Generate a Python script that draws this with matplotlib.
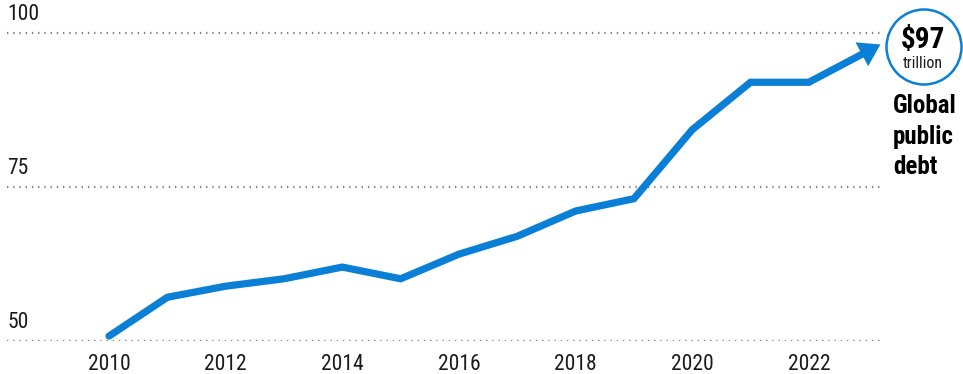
import matplotlib
matplotlib.use("Agg")
import numpy as np
import matplotlib.pyplot as plt
import matplotlib.patches as patches
from matplotlib import font_manager

# --- данные ---
years = [2010, 2011, 2012, 2013, 2014, 2015, 2016, 2017, 2018, 2019, 2020, 2021, 2022, 2023]
debt = [50.8, 57.1, 58.9, 60.1, 62.0, 60.1, 64.1, 67.0, 71.1, 73.1, 84.3, 92.0, 92.0, 97.0]
y_ticks = [50, 75, 100]
x_ticks = [2010, 2012, 2014, 2016, 2018, 2020, 2022]
badge_value = "$97"
badge_unit = "trillion"
series_label = "Global\npublic\ndebt"

BLUE = "#0a7fd6"
TXT = "#1a1a1a"

# --- шрифт ---
have = {f.name for f in font_manager.fontManager.ttflist}
FONT = "DejaVu Sans"
for name in ["Liberation Sans Narrow", "Roboto Condensed", "Roboto", "Liberation Sans"]:
    if name in have:
        FONT = name
        break
plt.rcParams["font.family"] = [FONT, "DejaVu Sans"]

# --- графика ---
W, H = 963, 374
fig = plt.figure(figsize=(W / 100, H / 100), dpi=100)
ax = fig.add_axes([7 / W, (H - 341) / H, (880 - 7) / W, (341 - 20) / H])
ax.set_xlim(2008.25, 2023.22)
ax.set_ylim(50, 50 + (341 - 20) / 6.16)
ax.axis("off")

for yv in y_ticks:
    ax.axhline(yv, color="#808080", lw=1.6, ls=(0, (0.6, 2.2)), zorder=1)
    ax.annotate(str(yv), (0, yv), xycoords=("axes fraction", "data"),
                xytext=(0, 6), textcoords="offset points",
                ha="left", va="bottom", fontsize=15.5, color=TXT)

for xv in x_ticks:
    ax.annotate(str(xv), (xv, 50), xytext=(0, -9), textcoords="offset points",
                ha="center", va="top", fontsize=15.5, color=TXT, annotation_clip=False)

# линия до основания стрелки, наконечник рисуем треугольником в пикселях
fig.canvas.draw()
pts = ax.transData.transform(np.column_stack([years, debt]))
d = pts[-1] - pts[-2]
d = d / np.hypot(*d)
tip = pts[-1] + d * 15
base = tip - d * 21
perp = np.array([-d[1], d[0]])
line_pts = np.vstack([pts[:-1], base + d * 2])
ax.plot(*ax.transData.inverted().transform(line_pts).T, color=BLUE, lw=5.2,
        solid_capstyle="round", solid_joinstyle="miter", clip_on=False, zorder=3)
head = patches.Polygon([tip, base + perp * 13.5, base - perp * 13.5], closed=True,
                       transform=None, facecolor=BLUE, edgecolor="none", zorder=4)
fig.add_artist(head)

# --- значок ---
circ = patches.Circle((924 / 100, (H - 47) / 100), 0.375, transform=fig.dpi_scale_trans,
                      facecolor="white", edgecolor=BLUE, lw=1.8)
fig.add_artist(circ)
fig.text(923 / W, (H - 40) / H, badge_value, ha="center", va="center",
         fontsize=21, fontweight="bold", color="black")
fig.text(923 / W, (H - 63) / H, badge_unit, ha="center", va="center",
         fontsize=11.5, color=TXT)
fig.text(893 / W, (H - 94) / H, series_label, ha="left", va="top",
         fontsize=18, fontweight="bold", color="black", linespacing=1.35)

fig.savefig("out.png", dpi=100)
